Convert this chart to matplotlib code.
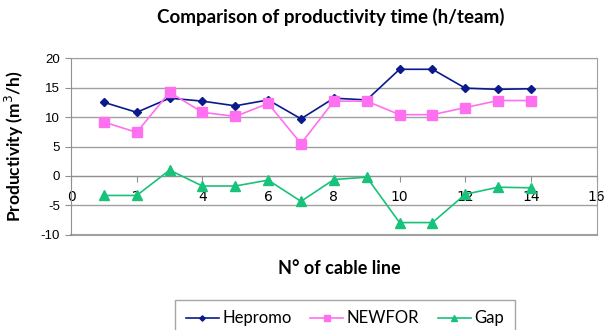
import matplotlib
matplotlib.use('Agg')
from matplotlib import pyplot as plt

# 数据
cable_line = [1, 2, 3, 4, 5, 6, 7, 8, 9, 10, 11, 12, 13, 14]
hepromo = [12.5, 10.8, 13.2, 12.7, 11.9, 12.9, 9.7, 13.2, 12.9, 18.1, 18.1, 14.9, 14.7, 14.8]
newfor = [9.15, 7.4, 14.2, 10.8, 10.1, 12.3, 5.5, 12.7, 12.7, 10.4, 10.4, 11.6, 12.8, 12.8]
gap = [-3.3, -3.3, 1.0, -1.7, -1.7, -0.7, -4.3, -0.6, -0.2, -7.9, -7.9, -3.1, -1.9, -2.0]

x_ticks = [0, 2, 4, 6, 8, 10, 12, 14, 16]
y_ticks = [-10, -5, 0, 5, 10, 15, 20]

label_font = ['Lato', 'DejaVu Sans']
tick_font = ['Liberation Sans', 'DejaVu Sans']

fig = plt.figure(figsize=(6.07, 3.30), dpi=100)
ax = fig.add_axes([0.117, 0.288, 0.866, 0.536])

ax.plot(cable_line, hepromo, color='#0A1A8C', marker='D', markersize=4.5,
        linewidth=1.2, label='Hepromo', zorder=3)
ax.plot(cable_line, newfor, color='#FF70F0', marker='s', markersize=7,
        linewidth=1.2, label='NEWFOR', zorder=3)
ax.plot(cable_line, gap, color='#19C27A', marker='^', markersize=7,
        linewidth=1.2, label='Gap', zorder=3)

ax.set_xlim(0, 16)
ax.set_ylim(-10, 20)
ax.set_xticks(x_ticks)
ax.set_yticks(y_ticks)
ax.set_yticklabels([str(v) for v in y_ticks], fontfamily=tick_font, fontsize=9.5)
ax.set_xticklabels([str(v) for v in x_ticks], fontfamily=tick_font, fontsize=9.5)

# 网格线
for v in y_ticks:
    ax.axhline(v, color='#A0A0A0', linewidth=1.0, zorder=1)

# 边框与坐标轴
for side in ['left', 'top', 'right']:
    ax.spines[side].set_color('#A0A0A0')
ax.spines['left'].set_color('#909090')
ax.spines['bottom'].set_position(('data', 0))
ax.spines['bottom'].set_color('#909090')
ax.axhline(-10, color='#A0A0A0', linewidth=1.5, clip_on=False, zorder=1)
ax.tick_params(axis='x', direction='out', length=4, color='#909090', pad=6)
ax.tick_params(axis='y', direction='out', length=4, color='#909090', pad=4)

ax.set_xlabel('N° of cable line', fontfamily=label_font, fontweight='bold',
              fontsize=13)
ax.xaxis.set_label_coords(0.51, -0.14)
ax.set_ylabel('Productivity (m$^3$/h)', fontfamily=label_font,
              fontweight='bold', fontsize=12.5)
ax.yaxis.set_label_coords(-0.085, 0.5)

fig.suptitle('Comparison of productivity time (h/team)', x=0.545, y=0.975,
             fontfamily=label_font, fontweight='bold', fontsize=13.5)

leg = fig.legend(loc='upper center', bbox_to_anchor=(0.568, 0.092), ncol=3,
                 frameon=True, fancybox=False, edgecolor='#909090',
                 prop={'family': label_font, 'size': 12},
                 handlelength=2.0, handletextpad=0.2, columnspacing=1.1,
                 borderpad=0.65, borderaxespad=0, markerscale=0.6)
leg.get_frame().set_linewidth(1.0)

plt.savefig('out.png', dpi=100)
